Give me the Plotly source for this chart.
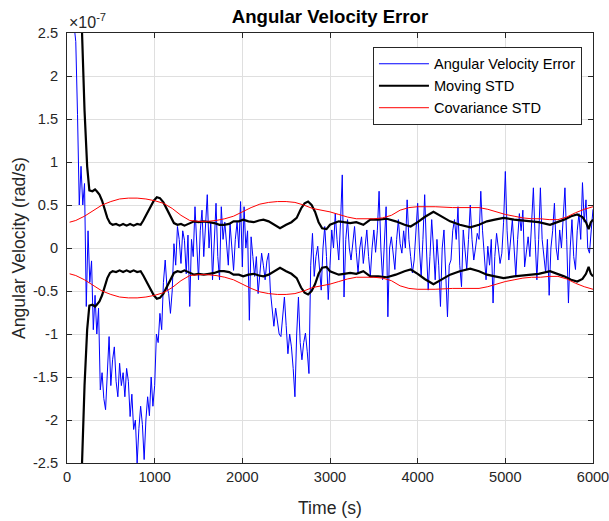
import plotly.graph_objects as go

# ---------------- data (values in units of 1e-7 rad/s) ----------------
SCALE = 1e-7

# Angular velocity error, sampled every 20 s from 0 to 6000 s
err_time = list(range(0, 6001, 20))
err_vals = [
    3.6, 3.3, 3.0, 2.75, 2.6, 2.4, 1.55, 0.5, 0.95, 0.5,            # 0-180
    0.75, -0.68, 0.2, -0.4, -0.15, -0.95, -0.55, -1.0, -0.7, -1.65, # 200-380
    -1.45, -1.75, -1.88, -1.5, -1.03, -1.6, -1.3, -1.15, -1.55, -1.73,
    -1.34, -1.6, -1.45, -1.73, -1.4, -1.55, -1.96, -1.7, -2.11, -2.0,
    -2.5, -2.1, -1.84, -2.05, -2.46, -2.0, -1.73, -1.95, -1.5, -1.84,
    -1.6, -1.0, -1.1, -0.76, -0.95, -0.4, -0.14, -0.45, -0.53, -0.76,
    -0.5, 0.05, -0.2, 0.25, 0.1, -0.18, 0.2, 0.09, -0.3, 0.15,
    -0.68, 0.1, -0.1, 0.48, 0.0, -0.37, 0.2, 0.44, -0.1, 0.3,
    0.62, 0.0, 0.3, -0.37, 0.1, 0.52, -0.1, -0.37, 0.48, 0.1,
    0.3, 0.02, -0.2, 0.28, 0.05, -0.26, 0.1, 0.3, 0.0, 0.54,
    -0.22, 0.48, 0.0, 0.2, -0.84, 0.13, -0.1, -0.33, -0.1, -0.53,
    -0.3, -0.06, -0.2, -0.37, -0.15, -0.06, -0.5, -0.68, -0.91, -0.7,
    -0.84, -1.0, -1.03, -0.8, -0.57, -0.9, -1.23, -1.0, -1.15, -1.4,
    -1.73, -1.0, -0.57, -1.1, -1.3, -1.1, -0.99, -1.2, -1.46, -0.2,
    0.17, -0.33, -0.1, 0.02, -0.2, -0.49, 0.0, 0.25, -0.1, -0.6,
    -0.2, 0.21, 0.0, 0.4, 0.1, -0.14, 0.3, 0.85, -0.57, 0.1,
    0.33, 0.0, -0.14, 0.1, 0.25, -0.05, -0.29, 0.0, 0.13, -0.18,
    0.05, 0.21, -0.1, -0.33, 0.0, 0.21, -0.05, 0.2, 0.66, 0.0,
    -0.37, 0.1, 0.48, -0.8, 0.0, 0.13, -0.1, -0.25, 0.1, 0.33,
    0.05, -0.06, 0.2, 0.0, 0.56, 0.1, -0.1, -0.29, -0.14, 0.21,
    0.52, 0.0, -0.33, 0.1, 0.62, 0.0, -0.49, -0.1, 0.33, 0.0,
    -0.37, 0.1, -0.2, -0.68, 0.0, 0.21, -0.3, -0.8, -0.2, -0.14,
    0.2, 0.33, 0.1, 0.48, -0.2, -0.45, 0.21, 0.0, -0.25, 0.1,
    0.5, 0.1, -0.14, 0.0, 0.17, 0.1, 0.66, 0.2, -0.1, -0.37,
    0.02, -0.2, 0.1, -0.64, -0.1, 0.17, 0.0, -0.18, -0.06, 0.3,
    0.89, 0.2, -0.14, 0.1, 0.33, 0.0, -0.33, 0.1, 0.4, 0.2,
    0.44, -0.22, 0.0, 0.13, -0.1, 0.3, 0.7, 0.1, -0.37, 0.1,
    0.7, 0.1, -0.1, -0.29, 0.1, -0.55, 0.0, 0.2, 0.52, 0.0,
    -0.14, 0.21, 0.0, 0.3, 0.7, 0.1, -0.64, 0.0, 0.33, -0.1,
    -0.25, 0.2, 0.4, 0.1, 0.76, 0.3, 0.56, 0.0, -0.06, 0.21,
    0.45,
]

# Moving standard deviation (plotted as +/-)
mstd_time = [140, 170, 200, 230, 255, 290, 320, 340, 370, 400, 430, 460, 490, 520,
             560, 600, 640, 680, 720, 760, 800, 840, 870, 910, 950, 990, 1025, 1060,
             1100, 1140, 1180, 1220, 1260, 1300, 1340, 1400, 1450, 1500, 1560, 1620,
             1680, 1740, 1790, 1850, 1900, 1960, 2010, 2070, 2130, 2190, 2240, 2300,
             2360, 2430, 2500, 2560, 2620, 2670, 2710, 2750, 2790, 2830, 2870, 2910,
             2960, 3000, 3050, 3100, 3160, 3230, 3300, 3380, 3460, 3550, 3650, 3750,
             3850, 3920, 4000, 4080, 4180, 4270, 4370, 4480, 4600, 4700, 4790, 4880,
             4980, 5100, 5250, 5380, 5510, 5600, 5670, 5750, 5820, 5880, 5920, 5950,
             5975, 6000]
mstd_vals = [3.5, 2.45, 1.6, 0.95, 0.67, 0.66, 0.68, 0.66, 0.62, 0.55, 0.45, 0.35, 0.29, 0.27,
             0.28, 0.26, 0.28, 0.26, 0.28, 0.26, 0.28, 0.27, 0.32, 0.40, 0.47, 0.55, 0.59, 0.58,
             0.53, 0.45, 0.36, 0.29, 0.27, 0.28, 0.26, 0.29, 0.31, 0.30, 0.31, 0.30,
             0.29, 0.27, 0.27, 0.28, 0.31, 0.31, 0.33, 0.31, 0.30, 0.32, 0.33, 0.31,
             0.27, 0.23, 0.27, 0.30, 0.35, 0.46, 0.52, 0.54, 0.50, 0.42, 0.30, 0.23,
             0.22, 0.27, 0.29, 0.31, 0.30, 0.29, 0.30, 0.27, 0.33, 0.33, 0.34, 0.31,
             0.27, 0.25, 0.30, 0.36, 0.42, 0.37, 0.31, 0.27, 0.24, 0.27, 0.31, 0.33,
             0.35, 0.33, 0.31, 0.30, 0.27, 0.30, 0.33, 0.37, 0.39, 0.36, 0.30, 0.22,
             0.30, 0.33]

# Covariance standard deviation (plotted as +/-)
cov_time = [30, 100, 200, 300, 400, 500, 600, 700, 800, 900, 1000, 1100, 1200, 1300,
            1400, 1500, 1600, 1700, 1800, 1900, 2000, 2100, 2200, 2300, 2400, 2500,
            2600, 2700, 2800, 2900, 3000, 3100, 3200, 3300, 3400, 3500, 3600, 3700,
            3800, 3900, 4000, 4200, 4400, 4600, 4700, 4800, 4900, 5000, 5100, 5200,
            5300, 5400, 5500, 5600, 5700, 5800, 5900, 6000]
cov_vals = [0.30, 0.32, 0.37, 0.44, 0.50, 0.54, 0.57, 0.58, 0.58, 0.57, 0.55, 0.52, 0.46, 0.38,
            0.32, 0.31, 0.31, 0.32, 0.34, 0.37, 0.42, 0.47, 0.51, 0.53, 0.54, 0.54,
            0.53, 0.50, 0.46, 0.44, 0.42, 0.39, 0.36, 0.34, 0.34, 0.34, 0.35, 0.38,
            0.44, 0.47, 0.48, 0.48, 0.47, 0.47, 0.47, 0.45, 0.42, 0.39, 0.37, 0.35,
            0.34, 0.34, 0.33, 0.33, 0.36, 0.41, 0.45, 0.48]

x_ticks = [0, 1000, 2000, 3000, 4000, 5000, 6000]
y_ticks = [-2.5, -2, -1.5, -1, -0.5, 0, 0.5, 1, 1.5, 2, 2.5]
y_tick_text = ["-2.5", "-2", "-1.5", "-1", "-0.5", "0", "0.5", "1", "1.5", "2", "2.5"]

# ---------------- figure ----------------
FONT = "Liberation Sans, Arial, Helvetica, sans-serif"
AX = "#262626"

fig = go.Figure()
fig.add_trace(go.Scatter(x=err_time, y=[v * SCALE for v in err_vals], mode="lines",
                         line=dict(color="#0000FF", width=1), name="Angular Velocity Error"))
fig.add_trace(go.Scatter(x=mstd_time, y=[v * SCALE for v in mstd_vals], mode="lines",
                         line=dict(color="#000000", width=2.2), name="Moving STD",
                         legendgroup="m"))
fig.add_trace(go.Scatter(x=mstd_time, y=[-v * SCALE for v in mstd_vals], mode="lines",
                         line=dict(color="#000000", width=2.2), name="Moving STD",
                         legendgroup="m", showlegend=False))
fig.add_trace(go.Scatter(x=cov_time, y=[v * SCALE for v in cov_vals], mode="lines",
                         line=dict(color="#FF0000", width=1), name="Covariance STD",
                         legendgroup="c"))
fig.add_trace(go.Scatter(x=cov_time, y=[-v * SCALE for v in cov_vals], mode="lines",
                         line=dict(color="#FF0000", width=1), name="Covariance STD",
                         legendgroup="c", showlegend=False))

axis_common = dict(showline=True, linecolor=AX, linewidth=1, mirror="ticks",
                   ticks="inside", ticklen=5, tickcolor=AX, showgrid=True,
                   gridcolor="#dfdfdf", gridwidth=1, zeroline=False,
                   ticklabeloverflow="allow", automargin=False,
                   tickfont=dict(family=FONT, size=14.6, color=AX))

fig.update_xaxes(range=[0, 6000], tickvals=x_ticks, ticktext=[str(t) for t in x_ticks],
                 **axis_common)
fig.update_yaxes(range=[-2.5 * SCALE, 2.5 * SCALE], tickvals=[v * SCALE for v in y_ticks],
                 ticktext=y_tick_text, ticklabelstandoff=5, **axis_common)

fig.update_layout(
    width=609, height=521,
    margin=dict(l=67, r=16, t=33, b=58, autoexpand=False),
    paper_bgcolor="white", plot_bgcolor="white",
    font=dict(family=FONT, color=AX),
    showlegend=True,
    legend=dict(x=0.979, y=0.968, xanchor="right", yanchor="top",
                bgcolor="white", bordercolor=AX, borderwidth=1,
                font=dict(family=FONT, size=14.6, color="#000000"),
                itemwidth=50, tracegroupgap=0),
    title=dict(text="<b>Angular Velocity Error</b>", x=0.5, xref="paper",
               y=1 - 16 / 521, yref="container", yanchor="middle", xanchor="center",
               font=dict(family=FONT, size=18.6, color="#000000")),
    annotations=[
        dict(text="Time (s)", xref="paper", yref="paper", x=0.5, y=(463 - 508) / 430,
             xanchor="center", yanchor="middle", showarrow=False,
             font=dict(family=FONT, size=17.6, color=AX)),
        dict(text="Angular Velocity (rad/s)", xref="paper", yref="paper",
             x=(19 - 67) / 526, y=0.5, xanchor="center", yanchor="middle",
             textangle=-90, showarrow=False,
             font=dict(family=FONT, size=17.6, color=AX)),
        dict(text="×10<sup>-7</sup>", xref="paper", yref="paper", x=0, y=(463 - 21) / 430,
             xanchor="left", yanchor="middle", showarrow=False,
             font=dict(family=FONT, size=16, color=AX)),
    ],
)

fig.write_html("out.html")
